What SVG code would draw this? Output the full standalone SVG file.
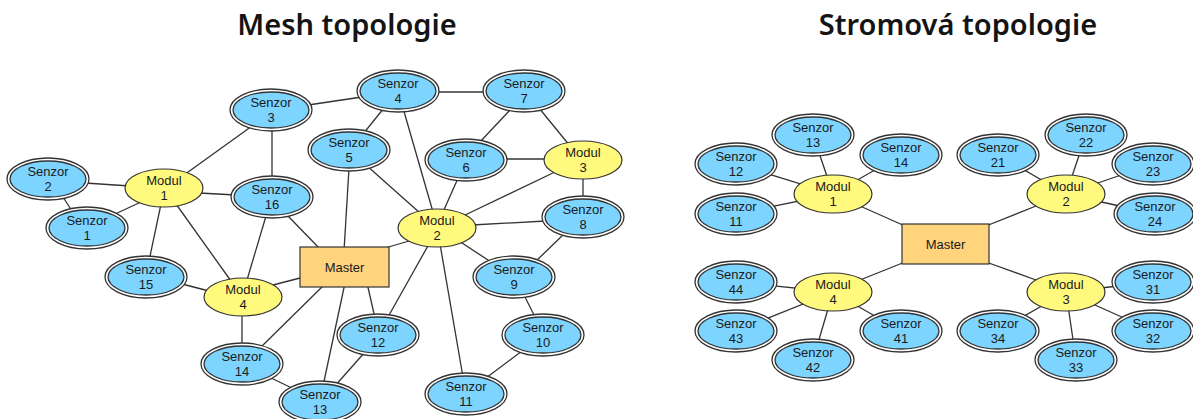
<svg xmlns="http://www.w3.org/2000/svg" width="1193" height="419" viewBox="0 0 1193 419">
  <defs>
    <style>
      .title { font-family: "Noto Sans", "Open Sans", sans-serif; font-weight: 600; font-size: 29px; fill: #141414; text-anchor: middle; }
      .lbl { font-family: "Liberation Sans", Arial, sans-serif; font-size: 13px; fill: #1a1a1a; text-anchor: middle; }
      .edges line { stroke: #333; stroke-width: 1.3; }
      .ring { fill: #fff; stroke: #333; stroke-width: 1.3; }
      .sensor { fill: #7dd4ff; stroke: #333; stroke-width: 1.3; }
      .module { fill: #fff97d; stroke: #333; stroke-width: 1.2; }
      .master { fill: #ffd47d; stroke: #333; stroke-width: 1.2; }
    </style>
    <!-- sensor: double outline ellipse -->
    <g id="sen">
      <ellipse class="ring" cx="0" cy="0" rx="41" ry="21"/>
      <ellipse class="sensor" cx="0" cy="0" rx="38" ry="18"/>
    </g>
    <ellipse id="mod" class="module" cx="0" cy="0" rx="39" ry="19"/>
  </defs>

  <rect width="1193" height="419" fill="#fff"/>

  <text class="title" x="347" y="35">Mesh topologie</text>
  <text class="title" x="958" y="35">Stromová topologie</text>

  <!-- ===== Mesh topology: connectors ===== -->
  <g class="edges" id="mesh-edges">
    <line x1="85" y1="183" x2="130" y2="186"/>
    <line x1="63" y1="197" x2="72" y2="211"/>
    <line x1="113" y1="215" x2="141" y2="202"/>
    <line x1="184" y1="175" x2="252" y2="126"/>
    <line x1="272" y1="127" x2="272" y2="181"/>
    <line x1="199" y1="193" x2="236" y2="195"/>
    <line x1="161" y1="204" x2="149" y2="261"/>
    <line x1="176" y1="204" x2="231" y2="281"/>
    <line x1="266" y1="216" x2="247" y2="280"/>
    <line x1="287" y1="215" x2="321" y2="250"/>
    <line x1="182" y1="284" x2="209" y2="291"/>
    <line x1="304" y1="277" x2="273" y2="285"/>
    <line x1="242" y1="312" x2="242" y2="348"/>
    <line x1="325" y1="284" x2="259" y2="349"/>
    <line x1="345" y1="283" x2="323" y2="386"/>
    <line x1="367" y1="283" x2="375" y2="318"/>
    <line x1="269" y1="377" x2="296" y2="390"/>
    <line x1="365" y1="352" x2="334" y2="387"/>
    <line x1="308" y1="105" x2="362" y2="97"/>
    <line x1="434" y1="92" x2="487" y2="92"/>
    <line x1="384" y1="108" x2="363" y2="134"/>
    <line x1="403" y1="108" x2="433" y2="212"/>
    <line x1="349" y1="168" x2="344" y2="251"/>
    <line x1="366" y1="165" x2="420" y2="213"/>
    <line x1="511" y1="109" x2="479" y2="143"/>
    <line x1="539" y1="108" x2="570" y2="146"/>
    <line x1="502" y1="159" x2="547" y2="159"/>
    <line x1="459" y1="176" x2="443" y2="212"/>
    <line x1="557" y1="171" x2="463" y2="216"/>
    <line x1="583" y1="175" x2="583" y2="201"/>
    <line x1="472" y1="225" x2="546" y2="221"/>
    <line x1="385" y1="248" x2="409" y2="241"/>
    <line x1="459" y1="241" x2="491" y2="262"/>
    <line x1="564" y1="234" x2="534" y2="263"/>
    <line x1="523" y1="293" x2="536" y2="319"/>
    <line x1="522" y1="351" x2="486" y2="378"/>
    <line x1="440" y1="244" x2="463" y2="377"/>
    <line x1="429" y1="244" x2="388" y2="317"/>
  </g>

  <!-- ===== Tree topology: connectors ===== -->
  <g class="edges" id="tree-edges">
    <line x1="860" y1="206" x2="905" y2="226"/>
    <line x1="1036" y1="206" x2="986" y2="226"/>
    <line x1="860" y1="280" x2="905" y2="262"/>
    <line x1="1036" y1="280" x2="986" y2="262"/>
    <line x1="833" y1="194" x2="736" y2="164"/>
    <line x1="833" y1="194" x2="813" y2="135"/>
    <line x1="833" y1="194" x2="901" y2="155"/>
    <line x1="833" y1="194" x2="736" y2="214"/>
    <line x1="1066" y1="194" x2="998" y2="155"/>
    <line x1="1066" y1="194" x2="1086" y2="135"/>
    <line x1="1066" y1="194" x2="1153" y2="164"/>
    <line x1="1066" y1="194" x2="1155" y2="214"/>
    <line x1="833" y1="292" x2="736" y2="282"/>
    <line x1="833" y1="292" x2="736" y2="331"/>
    <line x1="833" y1="292" x2="813" y2="360"/>
    <line x1="833" y1="292" x2="901" y2="331"/>
    <line x1="1066" y1="292" x2="1153" y2="282"/>
    <line x1="1066" y1="292" x2="1153" y2="331"/>
    <line x1="1066" y1="292" x2="1076" y2="360"/>
    <line x1="1066" y1="292" x2="998" y2="331"/>
  </g>

  <!-- ===== Mesh topology: nodes ===== -->
  <g id="m-senzor-1"><use href="#sen" x="87" y="228"/><text class="lbl" x="87" y="225">Senzor</text><text class="lbl" x="87" y="240">1</text></g>
  <g id="m-senzor-2"><use href="#sen" x="48" y="179"/><text class="lbl" x="48" y="176">Senzor</text><text class="lbl" x="48" y="191">2</text></g>
  <g id="m-senzor-3"><use href="#sen" x="271" y="110"/><text class="lbl" x="271" y="107">Senzor</text><text class="lbl" x="271" y="122">3</text></g>
  <g id="m-senzor-4"><use href="#sen" x="398" y="91"/><text class="lbl" x="398" y="88">Senzor</text><text class="lbl" x="398" y="103">4</text></g>
  <g id="m-senzor-5"><use href="#sen" x="349" y="150"/><text class="lbl" x="349" y="147">Senzor</text><text class="lbl" x="349" y="162">5</text></g>
  <g id="m-senzor-6"><use href="#sen" x="466" y="160"/><text class="lbl" x="466" y="157">Senzor</text><text class="lbl" x="466" y="172">6</text></g>
  <g id="m-senzor-7"><use href="#sen" x="524" y="91"/><text class="lbl" x="524" y="88">Senzor</text><text class="lbl" x="524" y="103">7</text></g>
  <g id="m-senzor-8"><use href="#sen" x="583" y="217"/><text class="lbl" x="583" y="214">Senzor</text><text class="lbl" x="583" y="229">8</text></g>
  <g id="m-senzor-9"><use href="#sen" x="514" y="277"/><text class="lbl" x="514" y="274">Senzor</text><text class="lbl" x="514" y="289">9</text></g>
  <g id="m-senzor-10"><use href="#sen" x="543" y="335"/><text class="lbl" x="543" y="332">Senzor</text><text class="lbl" x="543" y="347">10</text></g>
  <g id="m-senzor-11"><use href="#sen" x="466" y="394"/><text class="lbl" x="466" y="391">Senzor</text><text class="lbl" x="466" y="406">11</text></g>
  <g id="m-senzor-12"><use href="#sen" x="378" y="335"/><text class="lbl" x="378" y="332">Senzor</text><text class="lbl" x="378" y="347">12</text></g>
  <g id="m-senzor-13"><use href="#sen" x="320" y="402"/><text class="lbl" x="320" y="399">Senzor</text><text class="lbl" x="320" y="414">13</text></g>
  <g id="m-senzor-14"><use href="#sen" x="242" y="364"/><text class="lbl" x="242" y="361">Senzor</text><text class="lbl" x="242" y="376">14</text></g>
  <g id="m-senzor-15"><use href="#sen" x="146" y="277"/><text class="lbl" x="146" y="274">Senzor</text><text class="lbl" x="146" y="289">15</text></g>
  <g id="m-senzor-16"><use href="#sen" x="272" y="197"/><text class="lbl" x="272" y="194">Senzor</text><text class="lbl" x="272" y="209">16</text></g>
  <g id="m-modul-1"><use href="#mod" x="164" y="188"/><text class="lbl" x="164" y="185">Modul</text><text class="lbl" x="164" y="200">1</text></g>
  <g id="m-modul-2"><use href="#mod" x="437" y="228"/><text class="lbl" x="437" y="225">Modul</text><text class="lbl" x="437" y="240">2</text></g>
  <g id="m-modul-3"><use href="#mod" x="583" y="160"/><text class="lbl" x="583" y="157">Modul</text><text class="lbl" x="583" y="172">3</text></g>
  <g id="m-modul-4"><use href="#mod" x="243" y="297"/><text class="lbl" x="243" y="294">Modul</text><text class="lbl" x="243" y="309">4</text></g>
  <g id="m-master"><rect class="master" x="300" y="247" width="89" height="40"/><text class="lbl" x="344.5" y="272">Master</text></g>

  <!-- ===== Tree topology: nodes ===== -->
  <g id="t-master"><rect class="master" x="902" y="224" width="87" height="40"/><text class="lbl" x="945.5" y="249">Master</text></g>
  <g id="t-modul-1"><use href="#mod" x="833" y="194"/><text class="lbl" x="833" y="191">Modul</text><text class="lbl" x="833" y="206">1</text></g>
  <g id="t-modul-2"><use href="#mod" x="1066" y="194"/><text class="lbl" x="1066" y="191">Modul</text><text class="lbl" x="1066" y="206">2</text></g>
  <g id="t-modul-3"><use href="#mod" x="1066" y="292"/><text class="lbl" x="1066" y="289">Modul</text><text class="lbl" x="1066" y="304">3</text></g>
  <g id="t-modul-4"><use href="#mod" x="833" y="292"/><text class="lbl" x="833" y="289">Modul</text><text class="lbl" x="833" y="304">4</text></g>
  <g id="t-senzor-11"><use href="#sen" x="736" y="214"/><text class="lbl" x="736" y="211">Senzor</text><text class="lbl" x="736" y="226">11</text></g>
  <g id="t-senzor-12"><use href="#sen" x="736" y="164"/><text class="lbl" x="736" y="161">Senzor</text><text class="lbl" x="736" y="176">12</text></g>
  <g id="t-senzor-13"><use href="#sen" x="813" y="135"/><text class="lbl" x="813" y="132">Senzor</text><text class="lbl" x="813" y="147">13</text></g>
  <g id="t-senzor-14"><use href="#sen" x="901" y="155"/><text class="lbl" x="901" y="152">Senzor</text><text class="lbl" x="901" y="167">14</text></g>
  <g id="t-senzor-21"><use href="#sen" x="998" y="155"/><text class="lbl" x="998" y="152">Senzor</text><text class="lbl" x="998" y="167">21</text></g>
  <g id="t-senzor-22"><use href="#sen" x="1086" y="135"/><text class="lbl" x="1086" y="132">Senzor</text><text class="lbl" x="1086" y="147">22</text></g>
  <g id="t-senzor-23"><use href="#sen" x="1153" y="164"/><text class="lbl" x="1153" y="161">Senzor</text><text class="lbl" x="1153" y="176">23</text></g>
  <g id="t-senzor-24"><use href="#sen" x="1155" y="214"/><text class="lbl" x="1155" y="211">Senzor</text><text class="lbl" x="1155" y="226">24</text></g>
  <g id="t-senzor-31"><use href="#sen" x="1153" y="282"/><text class="lbl" x="1153" y="279">Senzor</text><text class="lbl" x="1153" y="294">31</text></g>
  <g id="t-senzor-32"><use href="#sen" x="1153" y="331"/><text class="lbl" x="1153" y="328">Senzor</text><text class="lbl" x="1153" y="343">32</text></g>
  <g id="t-senzor-33"><use href="#sen" x="1076" y="360"/><text class="lbl" x="1076" y="357">Senzor</text><text class="lbl" x="1076" y="372">33</text></g>
  <g id="t-senzor-34"><use href="#sen" x="998" y="331"/><text class="lbl" x="998" y="328">Senzor</text><text class="lbl" x="998" y="343">34</text></g>
  <g id="t-senzor-41"><use href="#sen" x="901" y="331"/><text class="lbl" x="901" y="328">Senzor</text><text class="lbl" x="901" y="343">41</text></g>
  <g id="t-senzor-42"><use href="#sen" x="813" y="360"/><text class="lbl" x="813" y="357">Senzor</text><text class="lbl" x="813" y="372">42</text></g>
  <g id="t-senzor-43"><use href="#sen" x="736" y="331"/><text class="lbl" x="736" y="328">Senzor</text><text class="lbl" x="736" y="343">43</text></g>
  <g id="t-senzor-44"><use href="#sen" x="736" y="282"/><text class="lbl" x="736" y="279">Senzor</text><text class="lbl" x="736" y="294">44</text></g>
</svg>
